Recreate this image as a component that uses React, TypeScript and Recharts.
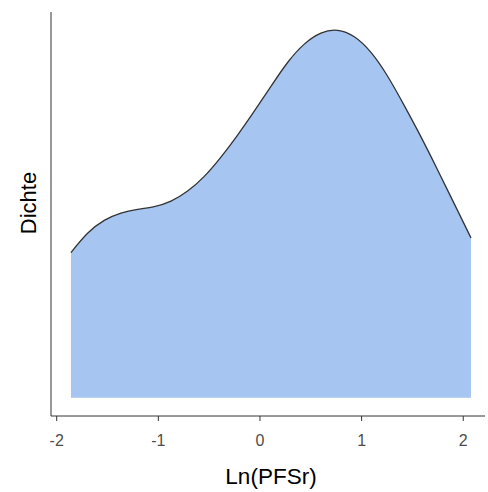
import { AreaChart, Area, XAxis, YAxis } from "recharts";

// density estimate of Ln(PFSr)
const lnPfsr = [
  -1.86, -1.696, -1.532, -1.368, -1.204, -1.04, -0.876, -0.712, -0.548, -0.384, -0.22, -0.056, 0.108,
  0.272, 0.436, 0.6, 0.764, 0.928, 1.092, 1.256, 1.42, 1.584, 1.748, 1.912, 2.076,
];
const dichte = [
  0.158, 0.179, 0.193, 0.201, 0.205, 0.208, 0.214, 0.225, 0.241, 0.262, 0.286, 0.312, 0.339,
  0.365, 0.385, 0.397, 0.4, 0.393, 0.376, 0.35, 0.318, 0.284, 0.248, 0.211, 0.174,
];
const xTicks = [-2, -1, 0, 1, 2];

const data = lnPfsr.map((x, i) => ({ x, d: dichte[i] }));

const font = "'Liberation Sans', Arial, Helvetica, sans-serif";

function YLabel({ viewBox }: any) {
  const x = viewBox.x + viewBox.width / 2 + 9;
  const y = viewBox.y + viewBox.height / 2 - 11;
  return (
    <text x={x} y={y} transform={`rotate(-90, ${x}, ${y})`} textAnchor="middle" fontSize={22} fill="#000" fontFamily={font}>
      Dichte
    </text>
  );
}

function XLabel({ viewBox }: any) {
  const x = viewBox.x + viewBox.width / 2 + 3;
  const y = viewBox.y + 68;
  return (
    <text x={x} y={y} textAnchor="middle" fontSize={22.5} fill="#000" fontFamily={font}>
      Ln(PFSr)
    </text>
  );
}

export default function App() {
  return (
    <div style={{ position: "absolute", left: 0, top: 0, background: "#fff" }}>
      <AreaChart width={488} height={492} data={data} margin={{ top: 12, right: 3, bottom: 0, left: 3 }}>
        <XAxis
          type="number"
          dataKey="x"
          domain={[-2.056, 2.214]}
          ticks={xTicks}
          allowDataOverflow
          interval={0}
          height={76}
          tickSize={5}
          tickMargin={14}
          tick={{ fill: "#4D4D4D", fontSize: 16, fontFamily: font }}
          axisLine={{ stroke: "#333333" }}
          tickLine={{ stroke: "#333333" }}
          label={<XLabel />}
        />
        <YAxis
          type="number"
          domain={[-0.02, 0.42]}
          width={48}
          tick={false}
          tickLine={false}
          axisLine={{ stroke: "#333333" }}
          label={<YLabel />}
        />
        <Area
          type="natural"
          dataKey="d"
          baseValue={0}
          stroke="#333333"
          strokeWidth={1.3}
          fill="#A6C5F1"
          fillOpacity={1}
          isAnimationActive={false}
        />
      </AreaChart>
    </div>
  );
}
